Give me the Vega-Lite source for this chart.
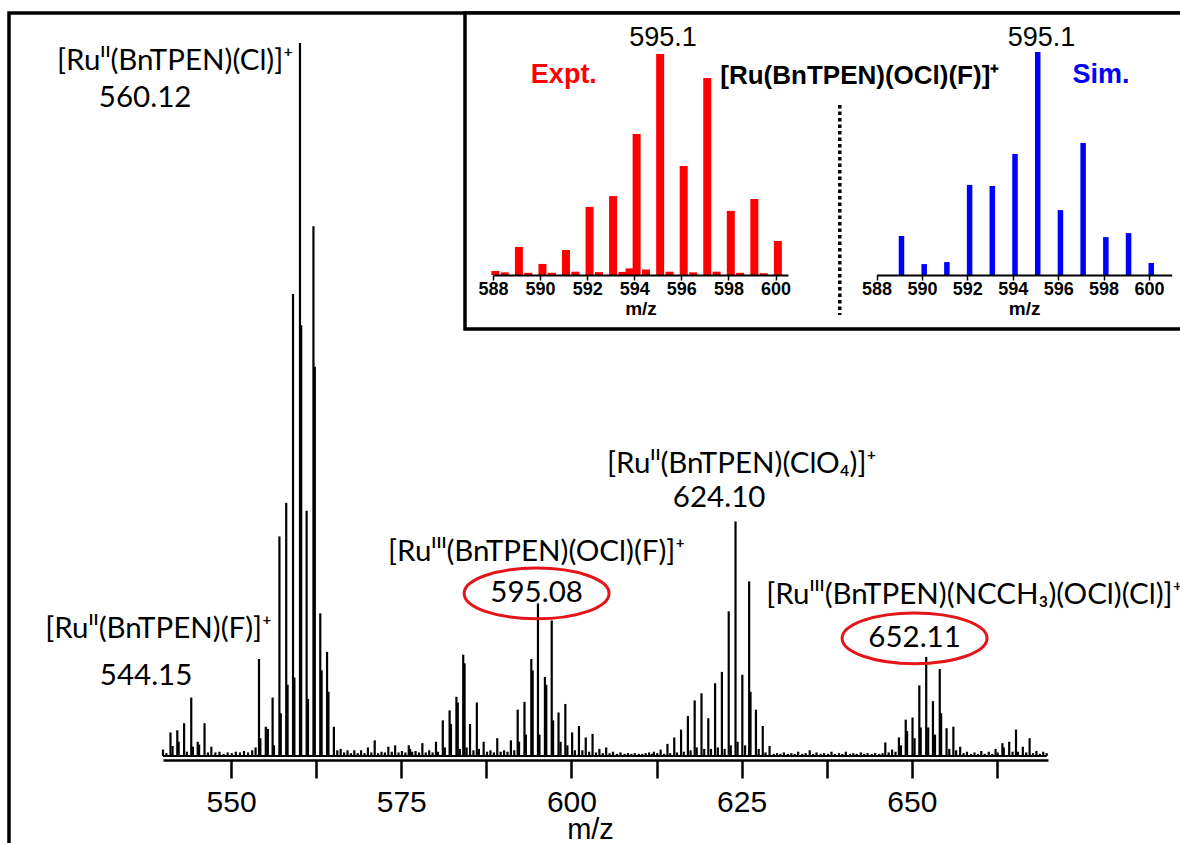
{
  "$schema": "https://vega.github.io/schema/vega-lite/v6.json",
  "width": 1173,
  "height": 833,
  "autosize": {"type": "none"},
  "padding": {"left": 9, "top": 13, "right": -2, "bottom": -3},
  "background": "white",
  "config": {
    "view": {"stroke": "black", "strokeWidth": 3.5},
    "font": "Liberation Sans",
    "axis": {"grid": false}
  },
  "datasets": {
    "spectrum": [
      {"mz": 540.0, "h": 0.9}, {"mz": 540.5, "h": 0.4}, {"mz": 541.1, "h": 3.3}, {"mz": 541.4, "h": 1.4},
      {"mz": 542.1, "h": 3.6}, {"mz": 542.3, "h": 2.0}, {"mz": 543.1, "h": 4.6}, {"mz": 543.5, "h": 0.6},
      {"mz": 544.15, "h": 8.2}, {"mz": 544.4, "h": 1.3}, {"mz": 545.1, "h": 2.0}, {"mz": 545.3, "h": 1.6},
      {"mz": 546.1, "h": 4.6}, {"mz": 546.6, "h": 0.5}, {"mz": 547.1, "h": 1.3}, {"mz": 547.7, "h": 0.5},
      {"mz": 548.3, "h": 0.6}, {"mz": 548.9, "h": 0.3}, {"mz": 549.5, "h": 0.5}, {"mz": 550.1, "h": 0.4},
      {"mz": 550.7, "h": 0.6}, {"mz": 551.3, "h": 0.5}, {"mz": 551.9, "h": 0.7}, {"mz": 552.5, "h": 0.5},
      {"mz": 553.1, "h": 0.8}, {"mz": 553.6, "h": 1.2}, {"mz": 554.1, "h": 13.6}, {"mz": 554.3, "h": 2.5},
      {"mz": 555.1, "h": 4.1}, {"mz": 555.4, "h": 3.8}, {"mz": 556.1, "h": 8.2}, {"mz": 556.3, "h": 1.5},
      {"mz": 557.1, "h": 30.8}, {"mz": 557.3, "h": 6.0}, {"mz": 558.1, "h": 35.5}, {"mz": 558.3, "h": 10.0},
      {"mz": 559.1, "h": 64.8}, {"mz": 559.3, "h": 11.0}, {"mz": 560.12, "h": 100}, {"mz": 560.3, "h": 60.4},
      {"mz": 561.1, "h": 34.4}, {"mz": 561.3, "h": 8.0}, {"mz": 562.1, "h": 74.3}, {"mz": 562.3, "h": 54.6},
      {"mz": 563.1, "h": 20.0}, {"mz": 563.3, "h": 12.0}, {"mz": 564.1, "h": 14.6}, {"mz": 564.3, "h": 9.0},
      {"mz": 565.1, "h": 4.1}, {"mz": 565.6, "h": 0.8}, {"mz": 566.1, "h": 1.0}, {"mz": 566.6, "h": 0.5},
      {"mz": 567.1, "h": 0.8}, {"mz": 567.6, "h": 0.4}, {"mz": 568.1, "h": 0.8}, {"mz": 568.6, "h": 0.4},
      {"mz": 569.1, "h": 0.8}, {"mz": 569.6, "h": 0.4}, {"mz": 570.1, "h": 1.2}, {"mz": 570.6, "h": 0.5},
      {"mz": 571.1, "h": 2.2}, {"mz": 571.6, "h": 0.4}, {"mz": 572.1, "h": 0.6}, {"mz": 572.6, "h": 0.5},
      {"mz": 573.1, "h": 1.3}, {"mz": 573.6, "h": 0.6}, {"mz": 574.1, "h": 1.5}, {"mz": 574.6, "h": 0.5},
      {"mz": 575.1, "h": 0.7}, {"mz": 575.6, "h": 0.5}, {"mz": 576.1, "h": 1.5}, {"mz": 576.3, "h": 1.0},
      {"mz": 576.6, "h": 0.6}, {"mz": 577.1, "h": 0.7}, {"mz": 577.6, "h": 0.5}, {"mz": 578.1, "h": 1.8},
      {"mz": 578.6, "h": 0.5}, {"mz": 579.1, "h": 0.8}, {"mz": 579.6, "h": 0.5}, {"mz": 580.1, "h": 2.0},
      {"mz": 580.4, "h": 0.6}, {"mz": 581.1, "h": 5.0}, {"mz": 581.4, "h": 1.2}, {"mz": 582.1, "h": 6.4},
      {"mz": 582.3, "h": 4.5}, {"mz": 583.1, "h": 8.3}, {"mz": 583.3, "h": 7.5}, {"mz": 583.6, "h": 1.0},
      {"mz": 584.1, "h": 14.2}, {"mz": 584.3, "h": 13.0}, {"mz": 584.6, "h": 1.2}, {"mz": 585.1, "h": 4.5},
      {"mz": 585.6, "h": 0.8}, {"mz": 586.1, "h": 7.5}, {"mz": 586.4, "h": 1.0}, {"mz": 587.1, "h": 2.0},
      {"mz": 587.6, "h": 0.6}, {"mz": 588.1, "h": 0.8}, {"mz": 588.6, "h": 0.5}, {"mz": 589.1, "h": 2.5},
      {"mz": 589.6, "h": 0.6}, {"mz": 590.1, "h": 0.8}, {"mz": 590.6, "h": 0.6}, {"mz": 591.1, "h": 2.2},
      {"mz": 591.6, "h": 0.8}, {"mz": 592.1, "h": 6.5}, {"mz": 592.3, "h": 2.0}, {"mz": 593.1, "h": 7.6},
      {"mz": 593.3, "h": 3.0}, {"mz": 594.1, "h": 13.6}, {"mz": 594.3, "h": 12.0}, {"mz": 595.08, "h": 21.4},
      {"mz": 595.3, "h": 3.0}, {"mz": 596.1, "h": 11.1}, {"mz": 596.3, "h": 10.0}, {"mz": 597.1, "h": 19.0},
      {"mz": 597.3, "h": 5.0}, {"mz": 598.1, "h": 6.1}, {"mz": 598.4, "h": 2.0}, {"mz": 599.1, "h": 7.3},
      {"mz": 599.4, "h": 1.5}, {"mz": 600.1, "h": 3.3}, {"mz": 600.5, "h": 0.8}, {"mz": 601.1, "h": 4.2},
      {"mz": 601.6, "h": 0.8}, {"mz": 602.1, "h": 2.6}, {"mz": 602.6, "h": 0.6}, {"mz": 603.1, "h": 3.1},
      {"mz": 603.6, "h": 0.5}, {"mz": 604.1, "h": 1.0}, {"mz": 604.6, "h": 0.4}, {"mz": 605.1, "h": 1.2},
      {"mz": 605.6, "h": 0.4}, {"mz": 606.1, "h": 0.6}, {"mz": 606.7, "h": 0.3}, {"mz": 607.2, "h": 0.5},
      {"mz": 607.8, "h": 0.3}, {"mz": 608.3, "h": 0.4}, {"mz": 608.8, "h": 0.3}, {"mz": 609.3, "h": 0.4},
      {"mz": 609.9, "h": 0.3}, {"mz": 610.4, "h": 0.3}, {"mz": 610.9, "h": 0.4}, {"mz": 611.4, "h": 0.5},
      {"mz": 611.8, "h": 0.3}, {"mz": 612.1, "h": 0.6}, {"mz": 612.6, "h": 0.4}, {"mz": 613.1, "h": 0.9},
      {"mz": 613.6, "h": 0.3}, {"mz": 614.1, "h": 1.7}, {"mz": 614.5, "h": 0.4}, {"mz": 615.1, "h": 2.6},
      {"mz": 615.5, "h": 0.5}, {"mz": 616.1, "h": 3.7}, {"mz": 616.5, "h": 0.6}, {"mz": 617.1, "h": 5.6},
      {"mz": 617.5, "h": 0.8}, {"mz": 618.1, "h": 7.8}, {"mz": 618.4, "h": 1.2}, {"mz": 619.1, "h": 8.8},
      {"mz": 619.5, "h": 1.0}, {"mz": 620.1, "h": 5.3}, {"mz": 620.5, "h": 1.0}, {"mz": 621.1, "h": 10.2},
      {"mz": 621.5, "h": 1.2}, {"mz": 622.1, "h": 11.8}, {"mz": 622.5, "h": 1.0}, {"mz": 623.1, "h": 20.3},
      {"mz": 623.4, "h": 1.5}, {"mz": 624.1, "h": 32.9}, {"mz": 624.4, "h": 2.0}, {"mz": 625.1, "h": 11.4},
      {"mz": 625.5, "h": 1.5}, {"mz": 626.1, "h": 24.5}, {"mz": 626.3, "h": 9.0}, {"mz": 627.1, "h": 6.5},
      {"mz": 627.5, "h": 1.0}, {"mz": 628.1, "h": 4.2}, {"mz": 628.5, "h": 0.5}, {"mz": 629.1, "h": 1.4},
      {"mz": 629.7, "h": 0.3}, {"mz": 630.2, "h": 0.4}, {"mz": 630.7, "h": 0.3}, {"mz": 631.2, "h": 0.5},
      {"mz": 631.8, "h": 0.3}, {"mz": 632.3, "h": 0.4}, {"mz": 632.8, "h": 0.3}, {"mz": 633.3, "h": 0.6},
      {"mz": 633.9, "h": 0.3}, {"mz": 634.4, "h": 0.4}, {"mz": 635.0, "h": 0.8}, {"mz": 635.5, "h": 0.3},
      {"mz": 636.0, "h": 0.5}, {"mz": 636.6, "h": 0.3}, {"mz": 637.1, "h": 0.4}, {"mz": 637.7, "h": 0.3},
      {"mz": 638.2, "h": 0.6}, {"mz": 638.7, "h": 0.3}, {"mz": 639.3, "h": 0.4}, {"mz": 639.8, "h": 0.3},
      {"mz": 640.3, "h": 0.6}, {"mz": 640.9, "h": 0.3}, {"mz": 641.4, "h": 0.4}, {"mz": 641.9, "h": 0.3},
      {"mz": 642.5, "h": 0.5}, {"mz": 643.0, "h": 0.3}, {"mz": 643.5, "h": 0.4}, {"mz": 644.1, "h": 0.3},
      {"mz": 644.6, "h": 0.4}, {"mz": 645.2, "h": 0.3}, {"mz": 645.7, "h": 0.4}, {"mz": 646.1, "h": 1.9},
      {"mz": 646.6, "h": 0.5}, {"mz": 647.1, "h": 0.9}, {"mz": 647.6, "h": 0.6}, {"mz": 648.1, "h": 2.6},
      {"mz": 648.4, "h": 1.5}, {"mz": 649.1, "h": 5.1}, {"mz": 649.3, "h": 3.5}, {"mz": 650.1, "h": 5.4},
      {"mz": 650.4, "h": 2.5}, {"mz": 651.1, "h": 9.9}, {"mz": 651.3, "h": 4.0}, {"mz": 652.11, "h": 13.9},
      {"mz": 652.4, "h": 4.0}, {"mz": 653.1, "h": 7.7}, {"mz": 653.4, "h": 3.0}, {"mz": 654.1, "h": 12.2},
      {"mz": 654.3, "h": 6.0}, {"mz": 655.1, "h": 3.9}, {"mz": 655.5, "h": 1.0}, {"mz": 656.1, "h": 4.1},
      {"mz": 656.5, "h": 0.8}, {"mz": 657.1, "h": 1.3}, {"mz": 657.6, "h": 0.4}, {"mz": 658.1, "h": 0.6},
      {"mz": 658.7, "h": 0.3}, {"mz": 659.2, "h": 0.5}, {"mz": 659.7, "h": 0.3}, {"mz": 660.2, "h": 0.7},
      {"mz": 660.7, "h": 0.3}, {"mz": 661.3, "h": 0.6}, {"mz": 661.8, "h": 0.3}, {"mz": 662.3, "h": 1.0},
      {"mz": 662.6, "h": 0.5}, {"mz": 663.3, "h": 1.8}, {"mz": 663.5, "h": 1.2}, {"mz": 664.3, "h": 2.0},
      {"mz": 664.8, "h": 0.6}, {"mz": 665.3, "h": 3.7}, {"mz": 665.6, "h": 0.6}, {"mz": 666.3, "h": 1.3},
      {"mz": 666.8, "h": 0.5}, {"mz": 667.3, "h": 2.5}, {"mz": 667.8, "h": 0.4}, {"mz": 668.3, "h": 0.7},
      {"mz": 668.8, "h": 0.3}, {"mz": 669.3, "h": 0.6}, {"mz": 669.8, "h": 0.4}
    ],
    "callouts": [
      {"label": "[Ruᴵᴵ(BnTPEN)(Cl)]⁺", "mz": 541.77, "h": 97.5},
      {"label": "560.12", "mz": 537.37, "h": 92.3},
      {"label": "[Ruᴵᴵ(BnTPEN)(F)]⁺", "mz": 539.35, "h": 17.8},
      {"label": "544.15", "mz": 537.51, "h": 11.2},
      {"label": "[Ruᴵᴵᴵ(BnTPEN)(OCl)(F)]⁺", "mz": 594.88, "h": 28.6},
      {"label": "595.08", "mz": 594.88, "h": 22.8},
      {"label": "[Ruᴵᴵ(BnTPEN)(ClO₄)]⁺", "mz": 625.0, "h": 41.0},
      {"label": "624.10", "mz": 621.69, "h": 36.2},
      {"label": "652.11", "mz": 650.4, "h": 16.5}
    ],
    "expt": [
      {"mz": 588.1, "h": 1.8}, {"mz": 588.5, "h": 1.2}, {"mz": 589.1, "h": 12.7}, {"mz": 589.5, "h": 1.0},
      {"mz": 590.1, "h": 5.0}, {"mz": 590.5, "h": 1.0}, {"mz": 591.1, "h": 11.3}, {"mz": 591.5, "h": 1.5},
      {"mz": 592.1, "h": 30.8}, {"mz": 592.5, "h": 1.3}, {"mz": 593.1, "h": 35.7}, {"mz": 593.5, "h": 1.4},
      {"mz": 593.8, "h": 3.0}, {"mz": 594.1, "h": 63.8}, {"mz": 594.5, "h": 2.5}, {"mz": 595.1, "h": 100},
      {"mz": 595.5, "h": 1.5}, {"mz": 596.1, "h": 49.3}, {"mz": 596.5, "h": 1.2}, {"mz": 597.1, "h": 89.1},
      {"mz": 597.5, "h": 1.5}, {"mz": 598.1, "h": 29.0}, {"mz": 598.5, "h": 1.0}, {"mz": 599.1, "h": 34.4},
      {"mz": 599.5, "h": 0.8}, {"mz": 600.1, "h": 15.4}
    ],
    "sim": [
      {"mz": 589.1, "h": 17.5}, {"mz": 590.1, "h": 4.9}, {"mz": 591.1, "h": 5.8}, {"mz": 592.1, "h": 40.4},
      {"mz": 593.1, "h": 39.9}, {"mz": 594.1, "h": 54.3}, {"mz": 595.1, "h": 100}, {"mz": 596.1, "h": 29.1},
      {"mz": 597.1, "h": 59.2}, {"mz": 598.1, "h": 17.0}, {"mz": 599.1, "h": 18.8}, {"mz": 600.1, "h": 5.4}
    ]
  },
  "layer": [
    {
      "data": {"name": "spectrum"},
      "layer": [
        {
          "mark": {"type": "line", "color": "black", "strokeWidth": 2},
          "encoding": {
            "x": {
              "field": "mz", "type": "quantitative",
              "scale": {"domain": [540, 670], "range": [154, 1039], "nice": false, "zero": false},
              "axis": {
                "orient": "bottom", "offset": -86,
                "values": [550, 562.5, 575, 587.5, 600, 612.5, 625, 637.5, 650, 662.5],
                "labelExpr": "datum.value % 25 === 0 ? datum.label : ''",
                "format": "d", "labelFlush": false, "labelOverlap": false,
                "domainColor": "black", "domainWidth": 2.5,
                "tickColor": "black", "tickWidth": 2.5, "tickSize": 18,
                "encode": {"ticks": {"update": {"y2": {"signal": "datum.value % 25 === 0 ? 18 : 12"}}}},
                "labelFont": "Liberation Sans", "labelFontSize": 30, "labelColor": "black", "labelPadding": 9,
                "title": "m/z", "titleFont": "Liberation Sans", "titleFontSize": 29, "titleFontWeight": "normal",
                "titleColor": "black", "titleX": 581, "titleY": 78, "titleAlign": "center", "titleBaseline": "alphabetic"
              }
            },
            "y": {
              "datum": 0, "type": "quantitative",
              "scale": {"domain": [0, 100], "range": [743, 30], "nice": false},
              "axis": null
            }
          }
        },
        {
          "mark": {"type": "rule", "color": "black", "strokeWidth": 2.2},
          "encoding": {
            "x": {"field": "mz", "type": "quantitative"},
            "y": {"field": "h", "type": "quantitative", "axis": null},
            "y2": {"datum": 0}
          }
        },
        {
          "data": {"name": "callouts"},
          "mark": {"type": "text", "font": "Lato", "fontSize": 29.5, "align": "center", "baseline": "middle", "color": "black"},
          "encoding": {
            "x": {"field": "mz", "type": "quantitative"},
            "y": {"field": "h", "type": "quantitative", "axis": null},
            "text": {"field": "label"}
          }
        },
        {
          "data": {"values": [{"label": "[Ruᴵᴵᴵ(BnTPEN)(NCCH₃)(OCl)(Cl)]⁺", "mz": 628.6, "h": 22.6}]},
          "mark": {"type": "text", "font": "Lato", "fontSize": 29.5, "align": "left", "baseline": "middle", "color": "black"},
          "encoding": {
            "x": {"field": "mz", "type": "quantitative"},
            "y": {"field": "h", "type": "quantitative", "axis": null},
            "text": {"field": "label"}
          }
        },
        {
          "data": {"name": "callouts"},
          "transform": [{"filter": {"field": "label", "oneOf": ["595.08", "652.11"]}}],
          "mark": {
            "type": "point",
            "shape": "M -1 0 A 1 0.35 0 1 1 1 0 A 1 0.35 0 1 1 -1 0 Z",
            "filled": false, "stroke": "#e3151a", "strokeWidth": 3, "size": 21000, "opacity": 1
          },
          "encoding": {
            "x": {"field": "mz", "type": "quantitative"},
            "y": {"field": "h", "type": "quantitative", "axis": null}
          }
        }
      ]
    },
    {
      "layer": [
        {
          "data": {"values": [{}]},
          "mark": {"type": "rect", "fill": "white", "stroke": "black", "strokeWidth": 3.5},
          "encoding": {
            "x": {"datum": 586.81, "type": "quantitative", "scale": {"domain": [588, 600.53], "range": [484, 779], "nice": false, "zero": false}},
            "x2": {"datum": 620},
            "y": {"datum": 118.6, "type": "quantitative", "scale": {"domain": [0, 100], "range": [262, 41], "nice": false}, "axis": null},
            "y2": {"datum": -24.4}
          }
        },
        {
          "data": {"name": "expt"},
          "mark": {"type": "rule", "color": "#ff0000", "strokeWidth": 8},
          "encoding": {
            "x": {
              "field": "mz", "type": "quantitative",
              "axis": {
                "orient": "bottom", "offset": -571, "zindex": 2,
                "values": [588, 590, 592, 594, 596, 598, 600], "format": "d",
                "labelFlush": false, "labelOverlap": false,
                "domainColor": "black", "domainWidth": 2, "tickColor": "black", "tickWidth": 1.5, "tickSize": 5,
                "labelFont": "Liberation Sans", "labelFontWeight": "bold", "labelFontSize": 18, "labelColor": "black", "labelPadding": 0,
                "title": "m/z", "titleFont": "Liberation Sans", "titleFontWeight": "bold", "titleFontSize": 19, "titleColor": "black",
                "titleY": 39, "titleBaseline": "alphabetic"
              }
            },
            "y": {"field": "h", "type": "quantitative", "axis": null},
            "y2": {"datum": 0}
          }
        },
        {
          "data": {"values": [{}]},
          "mark": {"type": "rule", "color": "black", "strokeWidth": 3.5, "strokeDash": [3.5, 3]},
          "encoding": {
            "x": {"datum": 602.73, "type": "quantitative"},
            "y": {"datum": 76.9, "type": "quantitative", "axis": null},
            "y2": {"datum": -18.1}
          }
        },
        {
          "data": {"values": [{"label": "595.1", "mz": 595.22, "h": 107.2}]},
          "mark": {"type": "text", "font": "Liberation Sans", "fontSize": 27, "align": "center", "baseline": "middle", "color": "black"},
          "encoding": {
            "x": {"field": "mz", "type": "quantitative"},
            "y": {"field": "h", "type": "quantitative", "axis": null},
            "text": {"field": "label"}
          }
        },
        {
          "data": {"values": [{"label": "Expt.", "mz": 591.01, "h": 90.5}]},
          "mark": {"type": "text", "font": "Liberation Sans", "fontSize": 27, "fontWeight": "bold", "align": "center", "baseline": "middle", "color": "#ff0000"},
          "encoding": {
            "x": {"field": "mz", "type": "quantitative"},
            "y": {"field": "h", "type": "quantitative", "axis": null},
            "text": {"field": "label"}
          }
        },
        {
          "data": {"values": [{"label": "[Ru(BnTPEN)(OCl)(F)]⁺", "mz": 603.58, "h": 90.0}]},
          "mark": {"type": "text", "font": "Liberation Sans", "fontSize": 26, "fontWeight": "bold", "align": "center", "baseline": "middle", "color": "black"},
          "encoding": {
            "x": {"field": "mz", "type": "quantitative"},
            "y": {"field": "h", "type": "quantitative", "axis": null},
            "text": {"field": "label"}
          }
        }
      ]
    },
    {
      "layer": [
        {
          "data": {"name": "sim"},
          "mark": {"type": "rule", "color": "#0000ff", "strokeWidth": 5.5},
          "encoding": {
            "x": {
              "field": "mz", "type": "quantitative",
              "scale": {"domain": [588, 601.0], "range": [867.5, 1162.7], "nice": false, "zero": false},
              "axis": {
                "orient": "bottom", "offset": -571, "zindex": 2,
                "values": [588, 590, 592, 594, 596, 598, 600], "format": "d",
                "labelFlush": false, "labelOverlap": false,
                "domainColor": "black", "domainWidth": 2, "tickColor": "black", "tickWidth": 1.5, "tickSize": 5,
                "labelFont": "Liberation Sans", "labelFontWeight": "bold", "labelFontSize": 18, "labelColor": "black", "labelPadding": 0,
                "title": "m/z", "titleFont": "Liberation Sans", "titleFontWeight": "bold", "titleFontSize": 19, "titleColor": "black",
                "titleY": 39, "titleBaseline": "alphabetic"
              }
            },
            "y": {"field": "h", "type": "quantitative", "scale": {"domain": [0, 100], "range": [262, 39], "nice": false}, "axis": null},
            "y2": {"datum": 0}
          }
        },
        {
          "data": {"values": [{"label": "595.1", "mz": 595.27, "h": 106.3}]},
          "mark": {"type": "text", "font": "Liberation Sans", "fontSize": 27, "align": "center", "baseline": "middle", "color": "black"},
          "encoding": {
            "x": {"field": "mz", "type": "quantitative"},
            "y": {"field": "h", "type": "quantitative", "axis": null},
            "text": {"field": "label"}
          }
        },
        {
          "data": {"values": [{"label": "Sim.", "mz": 597.89, "h": 89.7}]},
          "mark": {"type": "text", "font": "Liberation Sans", "fontSize": 27, "fontWeight": "bold", "align": "center", "baseline": "middle", "color": "#0000ff"},
          "encoding": {
            "x": {"field": "mz", "type": "quantitative"},
            "y": {"field": "h", "type": "quantitative", "axis": null},
            "text": {"field": "label"}
          }
        }
      ]
    }
  ],
  "resolve": {
    "scale": {"x": "independent", "y": "independent"},
    "axis": {"x": "independent", "y": "independent"}
  }
}
